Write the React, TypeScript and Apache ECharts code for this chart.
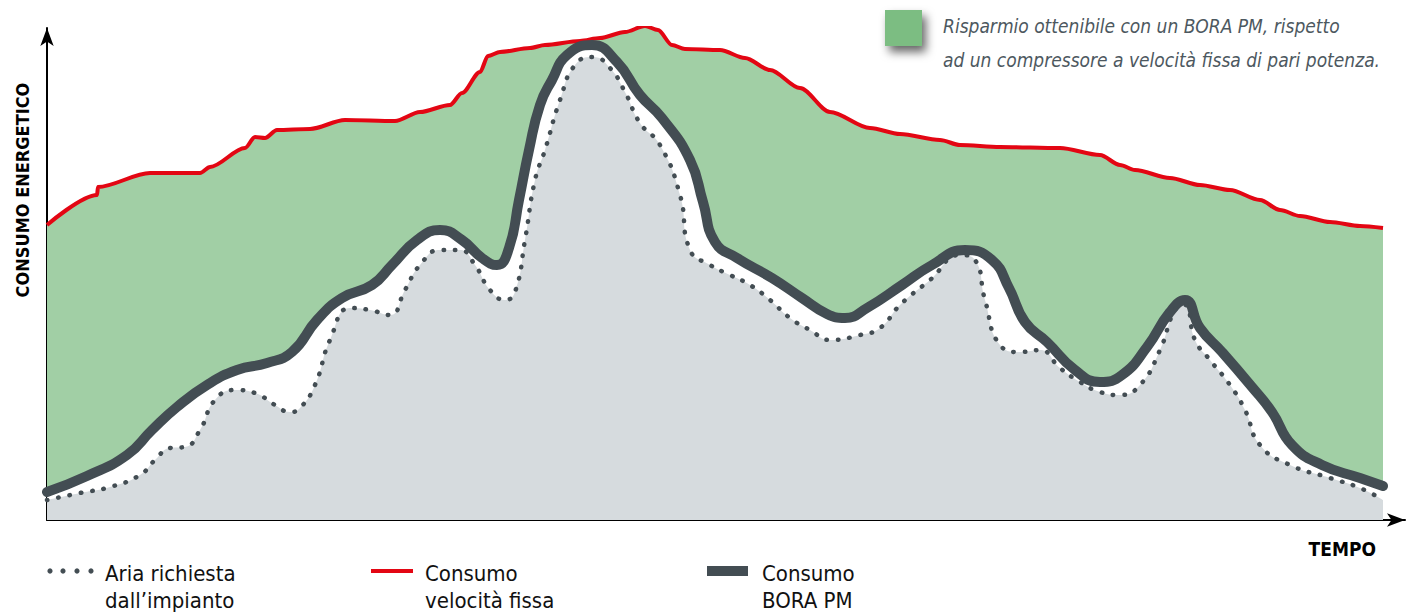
import React, { useEffect, useRef } from "react";
import * as echarts from "echarts";

// x: time units, y: energy units
const fissaX = [0, 50, 51, 103, 153, 163, 198, 208, 218, 230, 263, 298, 348, 373, 403, 415, 433, 441, 453, 483, 498, 533, 553, 578, 598, 611, 625, 638, 673, 698, 723, 753, 783, 823, 853, 893, 913, 953, 1013, 1053, 1073, 1088, 1123, 1153, 1183, 1213, 1233, 1253, 1283, 1313, 1336];
const fissaY = [295, 325, 333, 347, 347, 353, 372, 383, 382, 390, 391, 400, 399, 408, 415, 427, 448, 464, 468, 472, 475, 479, 482, 488, 494, 490, 475, 471, 470, 462, 450, 432, 408, 392, 386, 380, 375, 373, 372, 365, 355, 350, 342, 335, 330, 320, 310, 304, 298, 294, 292];

const boraX = [0, 40, 80, 105, 130, 160, 190, 220, 245, 270, 295, 325, 345, 370, 393, 415, 435, 450, 462, 472, 482, 493, 505, 520, 545, 570, 593, 615, 643, 656, 668, 690, 725, 755, 780, 798, 820, 855, 885, 918, 945, 962, 978, 1000, 1028, 1053, 1075, 1100, 1123, 1138, 1153, 1175, 1205, 1225, 1245, 1275, 1313, 1336];
const boraY = [28, 44, 65, 90, 113, 135, 150, 157, 168, 200, 222, 235, 255, 280, 290, 280, 262, 255, 272, 320, 370, 415, 440, 465, 475, 458, 425, 402, 360, 318, 278, 262, 242, 222, 206, 202, 212, 235, 255, 270, 260, 232, 198, 178, 150, 138, 145, 173, 208, 220, 192, 168, 133, 108, 75, 55, 42, 34];

const ariaX = [0, 33, 63, 93, 108, 123, 138, 153, 168, 188, 208, 228, 243, 253, 268, 283, 303, 323, 343, 358, 373, 393, 413, 428, 443, 458, 468, 478, 488, 498, 513, 528, 546, 563, 578, 593, 613, 633, 643, 663, 683, 703, 723, 743, 763, 783, 813, 833, 853, 883, 913, 928, 938, 953, 973, 993, 1013, 1033, 1053, 1073, 1093, 1113, 1128, 1138, 1148, 1163, 1183, 1198, 1213, 1243, 1283, 1313, 1336];
const ariaY = [20, 27, 33, 45, 60, 72, 73, 90, 120, 130, 127, 115, 108, 112, 135, 180, 212, 210, 205, 230, 255, 270, 270, 255, 230, 220, 228, 280, 340, 370, 420, 455, 463, 452, 428, 397, 375, 325, 270, 255, 245, 235, 220, 202, 190, 180, 185, 192, 215, 240, 265, 260, 220, 175, 168, 170, 152, 138, 128, 125, 135, 170, 210, 215, 180, 160, 135, 110, 75, 55, 42, 32, 20];

const legendLabels = ["Aria richiesta\ndall\u2019impianto", "Consumo\nvelocit\u00e0 fissa", "Consumo\nBORA PM"];
const noteText = "Risparmio ottenibile con un BORA PM, rispetto\nad un compressore a velocit\u00e0 fissa di pari potenza.";
const yName = "CONSUMO ENERGETICO";
const xName = "TEMPO";

const pair = (xs: number[], ys: number[]) => xs.map((x, i) => [x, ys[i]]);

const FONT = "'Liberation Sans Narrow', 'DejaVu Sans Condensed', 'Roboto Condensed', 'Liberation Sans', sans-serif";
const RED = "#e30613";
const DARK = "#434d53";
const GREEN = "#a1cfa5";
const GRAY = "#d6dbde";

export default function App() {
  const ref = useRef<HTMLDivElement>(null);
  useEffect(() => {
    const chart = echarts.init(ref.current!, null, { renderer: "svg" });
    chart.setOption({
      animation: false,
      grid: { left: 47, top: 28, right: 11, bottom: 93 },
      xAxis: {
        type: "value", min: 0, max: 1358,
        axisLine: { show: true, symbol: ["none", "arrow"], symbolSize: [10, 18], lineStyle: { color: "#000", width: 2 } },
        axisTick: { show: false }, axisLabel: { show: false }, splitLine: { show: false },
      },
      yAxis: {
        type: "value", min: 0, max: 492,
        axisLine: { show: true, symbol: ["none", "arrow"], symbolSize: [10, 18], lineStyle: { color: "#000", width: 2 } },
        axisTick: { show: false }, axisLabel: { show: false }, splitLine: { show: false },
      },
      series: [
        {
          type: "line", data: pair(fissaX, fissaY), smooth: 0.3, smoothMonotone: "x", showSymbol: false,
          lineStyle: { color: RED, width: 4 }, areaStyle: { color: GREEN, opacity: 1 },
        },
        {
          type: "line", data: pair(boraX, boraY), smooth: 0.5, showSymbol: false,
          lineStyle: { color: DARK, width: 10, cap: "round", join: "round" }, areaStyle: { color: "#ffffff", opacity: 1 },
        },
        {
          type: "line", data: pair(ariaX, ariaY), smooth: 0.5, showSymbol: false,
          lineStyle: { color: DARK, width: 4.5, type: [0.5, 11], cap: "round" }, areaStyle: { color: GRAY, opacity: 1 },
        },
      ],
      graphic: [
        { type: "text", x: 22, y: 190, rotation: Math.PI / 2, style: { text: yName, font: `bold 18px ${FONT}`, fill: "#000", align: "center", verticalAlign: "middle" } },
        { type: "text", x: 1376, y: 549, style: { text: xName, font: `bold 19px ${FONT}`, fill: "#000", align: "right", verticalAlign: "middle" } },
        // legend
        ...[50, 63, 77, 91].map((cx) => ({ type: "circle", shape: { cx, cy: 571, r: 2.6 }, style: { fill: DARK } })),
        { type: "line", shape: { x1: 371, y1: 571, x2: 413, y2: 571 }, style: { stroke: RED, lineWidth: 4 } },
        { type: "rect", shape: { x: 707, y: 566, width: 41, height: 10 }, style: { fill: DARK } },
        { type: "text", x: 105, y: 560, style: { text: legendLabels[0], font: `22px ${FONT}`, fill: "#111", lineHeight: 27, verticalAlign: "top" } },
        { type: "text", x: 425, y: 560, style: { text: legendLabels[1], font: `22px ${FONT}`, fill: "#111", lineHeight: 27, verticalAlign: "top" } },
        { type: "text", x: 762, y: 560, style: { text: legendLabels[2], font: `22px ${FONT}`, fill: "#111", lineHeight: 27, verticalAlign: "top" } },
        // note
        { type: "rect", shape: { x: 885, y: 10, width: 37, height: 36 }, style: { fill: "#7bbd82", shadowBlur: 10, shadowOffsetX: 4, shadowOffsetY: 6, shadowColor: "rgba(0,0,0,0.6)" } },
        { type: "text", x: 943, y: 9, style: { text: noteText, font: `italic 19px ${FONT}`, fill: "#4d5860", lineHeight: 34, verticalAlign: "top" } },
      ],
    });
    return () => chart.dispose();
  }, []);
  return <div ref={ref} style={{ position: "absolute", left: 0, top: 0, width: 1416, height: 613 }} />;
}
